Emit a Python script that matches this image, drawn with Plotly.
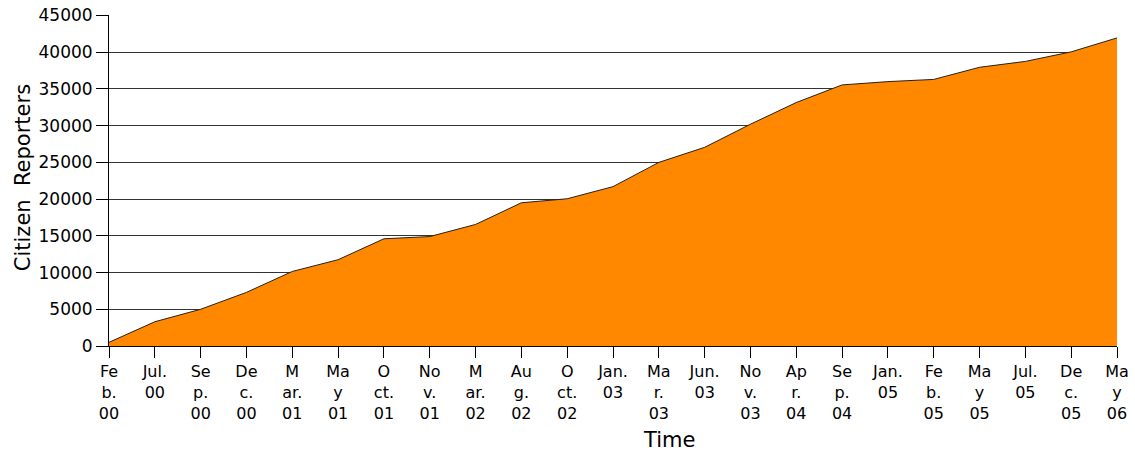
import plotly.graph_objects as go

# Data
tick_labels = [
    "Fe<br>b.<br>00", "Jul.<br>00", "Se<br>p.<br>00", "De<br>c.<br>00",
    "M<br>ar.<br>01", "Ma<br>y<br>01", "O<br>ct.<br>01", "No<br>v.<br>01",
    "M<br>ar.<br>02", "Au<br>g.<br>02", "O<br>ct.<br>02", "Jan.<br>03",
    "Ma<br>r.<br>03", "Jun.<br>03", "No<br>v.<br>03", "Ap<br>r.<br>04",
    "Se<br>p.<br>04", "Jan.<br>05", "Fe<br>b.<br>05", "Ma<br>y<br>05",
    "Jul.<br>05", "De<br>c.<br>05", "Ma<br>y<br>06",
]
reporters = [
    500, 3300, 5000, 7300, 10150, 11750, 14600, 14900,
    16550, 19500, 20050, 21700, 25000, 27050, 30200, 33150,
    35550, 36000, 36300, 37950, 38750, 40050, 41950,
]
positions = list(range(len(tick_labels)))

FONT = "DejaVu Sans"

fig = go.Figure()
fig.add_trace(go.Scatter(
    x=positions,
    y=reporters,
    mode="lines",
    fill="tozeroy",
    fillcolor="#FF8800",
    line=dict(color="#222222", width=1),
    hoverinfo="skip",
))

fig.update_layout(
    width=1135,
    height=457,
    margin=dict(l=109, r=18, t=15, b=111, autoexpand=False),
    paper_bgcolor="white",
    plot_bgcolor="white",
    showlegend=False,
    hovermode=False,
    font=dict(family=FONT, size=16, color="black"),
    xaxis=dict(
        range=[0, len(tick_labels) - 1],
        tickmode="array",
        tickvals=positions,
        ticktext=tick_labels,
        ticks="outside",
        ticklen=11,
        tickcolor="black",
        tickangle=0,
        showline=True,
        linecolor="black",
        linewidth=1,
        showgrid=False,
        zeroline=False,
        automargin=False,
        ticklabeloverflow="allow",
        tickfont=dict(family=FONT, size=16),
    ),
    yaxis=dict(
        range=[0, 45070],
        tickmode="linear",
        tick0=0,
        dtick=5000,
        tickformat="d",
        ticks="outside",
        ticklen=12,
        tickcolor="black",
        showline=True,
        linecolor="black",
        linewidth=1,
        showgrid=True,
        gridcolor="#333333",
        gridwidth=1,
        zeroline=False,
        automargin=False,
        ticklabeloverflow="allow",
        tickfont=dict(family=FONT, size=17),
    ),
    annotations=[
        dict(text="Time", xref="paper", yref="paper", x=0.5556, y=-0.285,
             xanchor="center", yanchor="middle", showarrow=False,
             font=dict(family=FONT, size=21)),
        dict(text="Citizen  Reporters", xref="paper", yref="paper", x=-0.0853, y=0.507,
             xanchor="center", yanchor="middle", textangle=-90, showarrow=False,
             font=dict(family=FONT, size=21)),
    ],
)

fig.write_html(
    "out.html",
    config={"displayModeBar": False},
    post_script="document.body.style.margin='0';document.body.style.overflow='hidden';",
)
